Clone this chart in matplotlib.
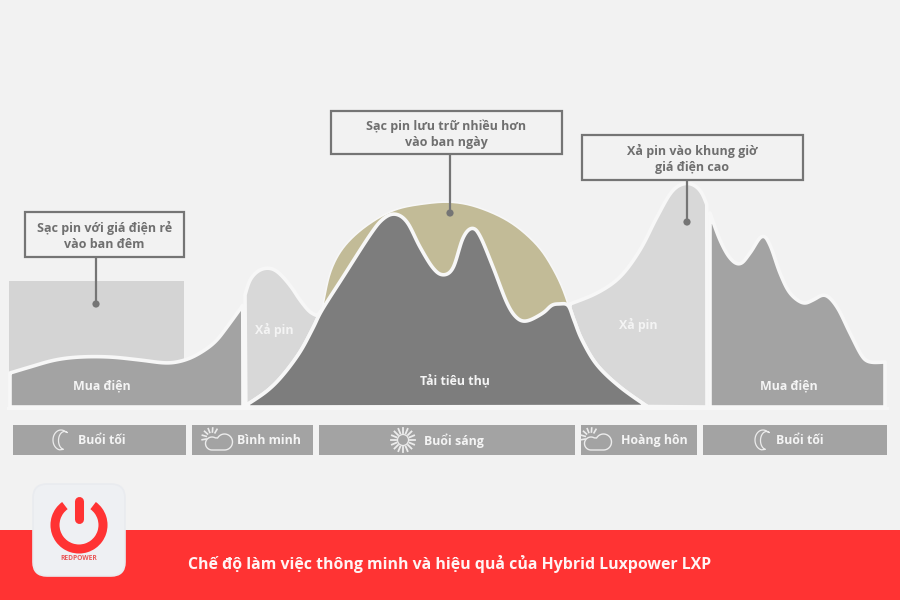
import numpy as np
import matplotlib
matplotlib.use("Agg")
import matplotlib.pyplot as plt
from matplotlib.patches import Rectangle, FancyBboxPatch, Circle, Arc, Polygon

plt.rcParams['font.family'] = ['Open Sans', 'DejaVu Sans']

# ---- data (x position, level) ----
buy_left_x = [10, 30, 55, 80, 110, 140, 167, 185, 200, 215, 227, 243]
buy_left_y = [373, 367, 360, 357, 357, 360, 363, 360, 353, 342, 327, 305]
dis1_top_x = [245, 250, 258, 267, 275, 283, 292, 300, 310, 318]
dis1_top_y = [295, 280, 271, 268, 270, 277, 288, 300, 312, 316]
load_x = [245, 267, 283, 300, 313, 322, 343, 370, 383, 395, 407, 420, 433, 443, 453, 463, 472, 480,
          493, 507, 517, 527, 543, 552, 560, 568, 574, 582, 597, 620, 648]
load_y = [406, 391, 375, 352, 328, 310, 277, 235, 219, 214, 222, 247, 268, 275, 268, 238, 228, 236,
          267, 303, 318, 321, 313, 305, 304, 305, 320, 340, 365, 387, 407]
dome_x = [322, 325, 330, 340, 355, 375, 397, 423, 450, 477, 510, 537, 552, 562, 568]
dome_y = [310, 295, 273, 252, 235, 220, 209, 204, 202, 207, 222, 245, 267, 287, 304]
dis2_top_x = [570, 597, 620, 640, 657, 673, 688, 700, 707]
dis2_top_y = [304, 293, 277, 250, 217, 190, 183, 190, 205]
buy_right_x = [710, 720, 730, 740, 750, 762, 770, 780, 790, 803, 813, 825, 837, 850, 862, 870, 885]
buy_right_y = [213, 240, 258, 264, 253, 236, 245, 273, 293, 303, 300, 295, 307, 333, 356, 362, 362]
base_level = 407
period_labels = ["Buổi tối", "Bình minh", "Buổi sáng", "Hoàng hôn", "Buổi tối"]
callouts = ["Sạc pin với giá điện rẻ\nvào ban đêm",
            "Sạc pin lưu trữ nhiều hơn\nvào ban ngày",
            "Xả pin vào khung giờ\ngiá điện cao"]
title = "Chế độ làm việc thông minh và hiệu quả của Hybrid Luxpower LXP"

BG, WHITE, MID, DARK, LIGHT, TAN, EDGE = "#f2f2f2", "#f7f7f7", "#a3a3a3", "#7d7d7d", "#d8d8d8", "#c2bb97", "#757575"
ICON = "#ececec"


def smooth(xs, ys, n=14, win=9):
    p = np.column_stack([xs, ys]).astype(float)
    p = np.vstack([p[0], p, p[-1]])
    out = []
    for i in range(1, len(p) - 2):
        t = np.linspace(0, 1, n, endpoint=False)[:, None]
        a, b, c, d = p[i - 1], p[i], p[i + 1], p[i + 2]
        out.append(0.5 * (2 * b + (c - a) * t + (2 * a - 5 * b + 4 * c - d) * t ** 2 + (3 * b - a - 3 * c + d) * t ** 3))
    out.append(p[-2][None, :])
    q = np.vstack(out)
    s = np.r_[0, np.cumsum(np.hypot(*np.diff(q, axis=0).T))]
    u = np.arange(0, s[-1], 1.0)
    q = np.column_stack([np.interp(u, s, q[:, 0]), np.interp(u, s, q[:, 1])])
    h = win // 2
    start = 2 * q[0] - q[1:h + 1][::-1]
    end = 2 * q[-1] - q[-h - 1:-1][::-1]
    pad = np.vstack([start, q, end])
    k = np.ones(win) / win
    return np.column_stack([np.convolve(pad[:, 0], k, "valid"), np.convolve(pad[:, 1], k, "valid")])


fig = plt.figure(figsize=(9, 6), dpi=100, facecolor=BG)
ax = fig.add_axes([0, 0, 1, 1])
ax.set_xlim(0, 900)
ax.set_ylim(600, 0)
ax.axis("off")

load = smooth(load_x, load_y, win=7)
bl = smooth(buy_left_x, buy_left_y, win=13)
br = smooth(buy_right_x, buy_right_y, win=7)
d1 = smooth(dis1_top_x, dis1_top_y)
d2 = smooth(dis2_top_x, dis2_top_y, win=13)
dome = smooth(dome_x, dome_y, win=21)

ax.add_patch(Rectangle((9, 281), 175, 92, fc="#d4d4d4", ec="none", zorder=1))

lw = 2.6
def poly(pts, fc, z=2):
    ax.add_patch(Polygon(pts, closed=True, fc=fc, ec=WHITE, lw=lw, joinstyle="round", zorder=z))

poly(np.vstack([bl, [[243, base_level], [10, base_level]]]), MID)
poly(np.vstack([br, [[885, 362], [885, base_level], [710, base_level]]]), MID)

mask = (load[:, 0] >= 245) & (load[:, 0] <= 322)
poly(np.vstack([d1, load[mask][::-1]]), LIGHT)
mask2 = (load[:, 0] >= 570)
poly(np.vstack([d2, [[707, base_level]], load[mask2][::-1]]), LIGHT)
mask3 = (load[:, 0] >= 322) & (load[:, 0] <= 568)
ax.add_patch(Polygon(np.vstack([dome, load[mask3][::-1]]), closed=True, fc=TAN, ec="none", zorder=2.5))
ax.plot(dome[:, 0], dome[:, 1], color=WHITE, lw=1.2, zorder=2.6)
poly(np.vstack([load, [[245, base_level]]]), DARK, z=3)
ax.plot([8, 887], [base_level + 1] * 2, color=WHITE, lw=2.4, zorder=4)

for x, y, s in [(102, 386, "Mua điện"), (274, 330, "Xả pin"), (455, 381, "Tải tiêu thụ"),
                (638, 325, "Xả pin"), (789, 386, "Mua điện")]:
    ax.text(x, y, s, color="#f4f4f4", fontsize=8.9, fontweight="bold", ha="center", va="center", zorder=5)

boxes = [(25, 212, 159, 45), (331, 111, 231, 43), (582, 135, 221, 45)]
anchors = [(96, 304), (450, 213), (687, 222)]
for (x, y, w, h), (ax_, ay_), s in zip(boxes, anchors, callouts):
    ax.plot([ax_, ax_], [y + h, ay_], color=EDGE, lw=1.6, zorder=6)
    ax.add_patch(Circle((ax_, ay_), 3.6, fc=EDGE, ec="none", zorder=6))
    ax.add_patch(Rectangle((x, y), w, h, fc=BG, ec=EDGE, lw=1.6, zorder=6))
    ax.text(x + w / 2, y + h / 2 + 1.5, s, color="#6f6f6f", fontsize=9.0, fontweight="bold",
            ha="center", va="center", linespacing=1.28, zorder=7)

strips = [(13, 173), (192, 121), (319, 256), (581, 116), (703, 184)]
label_x = [102, 268.5, 454, 654, 800]
for (x, w), lx, s in zip(strips, label_x, period_labels):
    ax.add_patch(Rectangle((x, 425), w, 30, fc=MID, ec="none", zorder=2))
    ax.text(lx, 440.5, s, color="#f4f4f4", fontsize=8.9, fontweight="bold", ha="center", va="center", zorder=5)


def moon(cx, cy=440):
    t = np.linspace(np.radians(100), np.radians(300), 40)
    outer = np.column_stack([cx + 8 * np.cos(t) + 3, cy + 10 * np.sin(t)])
    t2 = t[::-1]
    inner = np.column_stack([cx + 6 * np.cos(t2) + 6.5, cy + 9 * np.sin(t2) + 0.5])
    ax.add_patch(Polygon(np.vstack([outer, inner]), closed=True, fc="none", ec=ICON, lw=0.9, zorder=5))


def cloud(cx, cy=441):
    for a in np.linspace(170, 300, 6):
        c, s_ = np.cos(np.radians(a)), np.sin(np.radians(a))
        ax.plot([cx - 7 + 6 * c, cx - 7 + 10 * c], [cy - 3 + 6 * s_, cy - 3 + 10 * s_], color=ICON, lw=1.2, zorder=5)
    t1 = np.radians(np.linspace(90, 300, 30))
    t2 = np.radians(np.linspace(210, 450, 30))
    left = np.column_stack([cx - 7 + 6.5 * np.cos(t1), cy + 2.5 + 6.5 * np.sin(t1)])
    right = np.column_stack([cx + 5.5 + 8 * np.cos(t2), cy + 1 + 8 * np.sin(t2)])
    ax.add_patch(Polygon(np.vstack([left, right]), closed=True, fc=MID, ec=ICON, lw=1, zorder=5.5))


def sun(cx, cy=440):
    ax.add_patch(Circle((cx, cy), 5.5, fc="none", ec=ICON, lw=0.9, zorder=5))
    for a in np.arange(0, 360, 22.5):
        c, s_ = np.cos(np.radians(a)), np.sin(np.radians(a))
        ax.plot([cx + 7 * c, cx + 12 * c], [cy + 7 * s_, cy + 12 * s_], color=ICON, lw=1.3, zorder=5)


moon(58); cloud(219); sun(403); cloud(598); moon(760)

ax.add_patch(Rectangle((0, 530), 900, 70, fc="#ff3333", ec="none", zorder=1))
ax.text(450, 564, title, color="#fff4f4", fontsize=11.45, fontweight="bold", ha="center", va="center", zorder=5)
ax.add_patch(FancyBboxPatch((33, 484), 92, 92, boxstyle="round,pad=0,rounding_size=14",
                            fc="#eef0f3", ec="#e9ebef", lw=1.2, zorder=6))
ax.add_patch(Arc((79, 525), 48, 48, theta1=-54, theta2=234, color="#ff3333", lw=6.5, zorder=7))
ax.plot([79, 79], [500.5, 519], color="#ff3333", lw=6.5, solid_capstyle="round", zorder=7)
ax.text(79, 559, "REDPOWER", color="#e85a5a", fontsize=4.8, fontweight="bold", ha="center", va="center", zorder=7)

fig.savefig("out.png", dpi=100, facecolor=BG)
